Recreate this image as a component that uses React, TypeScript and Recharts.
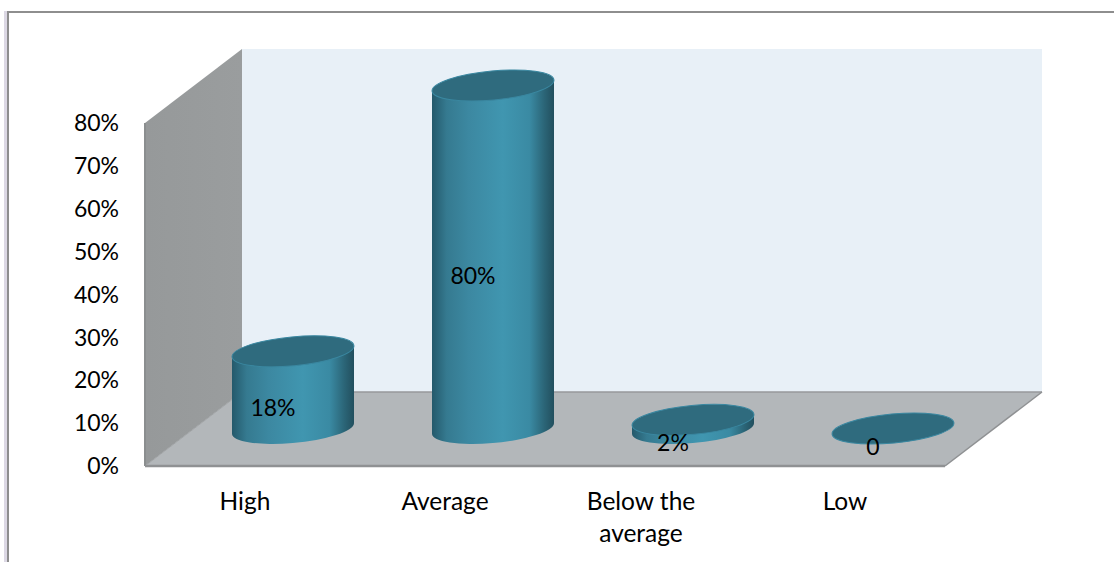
import React from "react";
import { BarChart, Bar, XAxis, YAxis, LabelList, usePlotArea } from "recharts";

// values
const categories = ["High", "Average", "Below the average", "Low"];
const shares = [18, 80, 2, 0];
const shareLabels = ["18%", "80%", "2%", "0"];
const yTicks = [0, 10, 20, 30, 40, 50, 60, 70, 80];

const data = categories.map((name, i) => ({ name, share: shares[i], label: shareLabels[i] }));

const FONT = "Lato, 'Noto Sans', sans-serif";

// the fake 3D room: how far the back wall is pushed away from the front
const WALL_DX = 97;
const WALL_DY = -74;
// bars stand half way into the room
const BAR_DX = 48;
const BAR_DY = -37.5;
// tilted cap of the cylinders
const CAP_RX = 61.2;
const CAP_RY = 14.5;
const CAP_TILT = -5.3;
const CAP_SLOPE = 5.3;

const Room = () => {
  const plot = usePlotArea();
  if (!plot) return null;
  const left = plot.x;
  const right = plot.x + plot.width;
  const top = plot.y;
  const bottom = plot.y + plot.height;
  const pts = (list: number[][]) => list.map((p) => p.join(",")).join(" ");
  return (
    <g>
      <polygon
        points={pts([
          [left + WALL_DX, top + WALL_DY],
          [right + WALL_DX, top + WALL_DY],
          [right + WALL_DX, bottom + WALL_DY],
          [left + WALL_DX, bottom + WALL_DY],
        ])}
        fill="#e8f0f7"
      />
      <polygon
        points={pts([
          [left, top],
          [left + WALL_DX, top + WALL_DY],
          [left + WALL_DX, bottom + WALL_DY],
          [left, bottom],
        ])}
        fill="url(#sideWall)"
      />
      <line x1={left} y1={top} x2={left} y2={bottom} stroke="#8b8e8f" strokeWidth={2} />
      <polygon
        points={pts([
          [left, bottom],
          [right, bottom],
          [right + WALL_DX, bottom + WALL_DY],
          [left + WALL_DX, bottom + WALL_DY],
        ])}
        fill="#b3b7ba"
      />
      <line x1={left} y1={bottom} x2={left + WALL_DX} y2={bottom + WALL_DY} stroke="#a0a3a5" />
      <line x1={left + WALL_DX} y1={bottom + WALL_DY} x2={right + WALL_DX} y2={bottom + WALL_DY} stroke="#97999b" strokeWidth={1.5} />
      <line x1={right} y1={bottom} x2={right + WALL_DX} y2={bottom + WALL_DY} stroke="#8f9193" strokeWidth={1.5} />
      <line x1={left} y1={bottom} x2={right} y2={bottom} stroke="#8f9193" strokeWidth={2.5} />
    </g>
  );
};

const Cylinder = (props: any) => {
  const { x, y, width, height } = props;
  const cx = x + width / 2 + BAR_DX;
  const hw = width / 2;
  const topY = y + BAR_DY;
  const botY = y + height + BAR_DY;
  const body = [
    `M${cx - hw},${topY + CAP_SLOPE}`,
    `L${cx - hw},${botY + CAP_SLOPE}`,
    `A${CAP_RX},${CAP_RY} ${CAP_TILT} 0 0 ${cx + hw},${botY - CAP_SLOPE}`,
    `L${cx + hw},${topY - CAP_SLOPE}`,
    "Z",
  ].join(" ");
  return (
    <g>
      {height > 0 && <path d={body} fill="url(#cylinderSide)" />}
      <ellipse
        cx={cx}
        cy={topY}
        rx={CAP_RX}
        ry={CAP_RY}
        transform={`rotate(${CAP_TILT} ${cx} ${topY})`}
        fill="#2f6b7e"
        stroke="#3a87a0"
        strokeWidth={1}
      />
    </g>
  );
};

const ShareLabel = (props: any) => {
  const { x, y, width, height, value } = props;
  return (
    <text
      x={x + width / 2 + 28}
      y={y + height / 2 - 20}
      textAnchor="middle"
      dominantBaseline="central"
      fontFamily={FONT}
      fontSize={23}
      fill="#000"
    >
      {value}
    </text>
  );
};

const CategoryTick = (props: any) => {
  const { x, y, payload } = props;
  const wrapped = payload.value === "Below the average";
  const lines = wrapped ? ["Below the", "average"] : [payload.value];
  const tx = wrapped ? x - 4 : x;
  return (
    <text x={tx} y={y + 36} textAnchor="middle" fontFamily={FONT} fontSize={24.5} fill="#000">
      {lines.map((line: string, i: number) => (
        <tspan key={line} x={tx} dy={i === 0 ? 0 : 32}>
          {line}
        </tspan>
      ))}
    </text>
  );
};

export default function App() {
  return (
    <div style={{ position: "absolute", left: 0, top: 0, width: 1114, height: 562, background: "#fff", overflow: "hidden" }}>
      {/* page frame around the pasted chart */}
      <div style={{ position: "absolute", left: 4, top: 11, width: 3, height: 551, background: "#dcd8e4" }} />
      <div style={{ position: "absolute", left: 7, top: 11, width: 2, height: 551, background: "#8e8e8e" }} />
      <div style={{ position: "absolute", left: 7, top: 11, width: 1107, height: 2, background: "#8e8e8e" }} />
      <div style={{ position: "absolute", left: 0, top: 0 }}>
        <BarChart
          width={1114}
          height={562}
          data={data}
          barSize={122}
          margin={{ top: 123, right: 169, bottom: 0, left: 26 }}
        >
          <defs>
            <linearGradient id="cylinderSide" x1="0" y1="0" x2="1" y2="0">
              <stop offset="0" stopColor="#24596b" />
              <stop offset="0.12" stopColor="#357a90" />
              <stop offset="0.3" stopColor="#3c88a1" />
              <stop offset="0.58" stopColor="#4096b0" />
              <stop offset="0.8" stopColor="#3a8aa3" />
              <stop offset="0.92" stopColor="#2b6577" />
              <stop offset="1" stopColor="#224f5e" />
            </linearGradient>
            <linearGradient id="sideWall" x1="0" y1="0" x2="1" y2="0">
              <stop offset="0" stopColor="#96999a" />
              <stop offset="1" stopColor="#9a9d9e" />
            </linearGradient>
          </defs>
          <Room />
          <XAxis
            dataKey="name"
            axisLine={false}
            tickLine={false}
            interval={0}
            tick={<CategoryTick />}
            height={96}
          />
          <YAxis
            type="number"
            domain={[0, 80]}
            ticks={yTicks}
            interval={0}
            width={119}
            axisLine={false}
            tickLine={false}
            tickMargin={20}
            tickFormatter={(v: number) => `${v}%`}
            tick={{ fontFamily: FONT, fontSize: 23, fill: "#000" }}
          />
          <Bar dataKey="share" shape={<Cylinder />} isAnimationActive={false}>
            <LabelList dataKey="label" content={<ShareLabel />} />
          </Bar>
        </BarChart>
      </div>
    </div>
  );
}
